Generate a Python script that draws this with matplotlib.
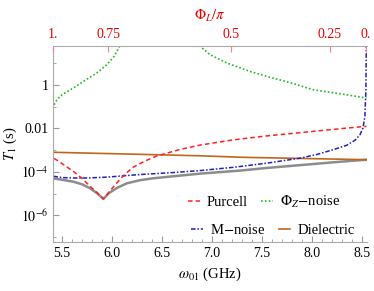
import matplotlib.pyplot as plt
import numpy as np
from matplotlib.ticker import NullFormatter

plt.rcParams["font.family"] = ["Liberation Serif", "DejaVu Serif"]
plt.rcParams["mathtext.fontset"] = "stix"

# frequency (GHz), log10(T1 / s)
purcell_f = [5.42, 5.5, 5.613, 5.7, 5.78, 5.85, 5.913, 5.97, 6.047, 6.13, 6.213, 6.33,
             6.447, 6.68, 6.88, 7.213, 7.547, 7.88, 8.013, 8.347, 8.545]
purcell_log = [-3.38, -3.62, -3.98, -4.30, -4.66, -4.95, -5.24, -4.92, -4.51, -4.10, -3.78,
               -3.50, -3.27, -2.97, -2.77, -2.53, -2.35, -2.20, -2.14, -1.99, -1.91]

phiz_f_left = [5.42, 5.45, 5.5, 5.613, 5.713, 5.847, 5.947, 6.02, 6.08, 6.12]
phiz_log_left = [-0.92, -0.68, -0.45, -0.15, 0.15, 0.54, 0.92, 1.3, 1.79, 2.3]
phiz_f_right = [6.84, 6.873, 6.98, 7.147, 7.38, 7.613, 7.78, 8.013, 8.347, 8.545]
phiz_log_right = [2.3, 1.79, 1.38, 1.0, 0.61, 0.3, 0.1, -0.23, -0.46, -0.61]

mnoise_f = [5.413, 5.5, 5.613, 5.75, 5.947, 6.28, 6.613, 6.88, 7.213, 7.547, 7.88, 8.05,
            8.213, 8.347, 8.43, 8.48, 8.51, 8.53, 8.54, 8.545]
mnoise_log = [-4.20, -4.26, -4.28, -4.28, -4.24, -4.12, -4.03, -3.94, -3.79, -3.60, -3.37,
              -3.20, -2.98, -2.78, -2.55, -2.30, -2.00, -1.45, -0.23, 2.3]

diel_f = [5.413, 6.88, 7.3, 8.545]
diel_log = [-3.10, -3.26, -3.33, -3.44]

total_f = [5.413, 5.5, 5.613, 5.7, 5.78, 5.85, 5.913, 5.97, 6.047, 6.15, 6.28, 6.4,
           6.613, 6.88, 7.28, 7.547, 7.88, 8.213, 8.545]
total_log = [-4.30, -4.36, -4.45, -4.57, -4.75, -4.98, -5.24, -4.97, -4.74, -4.52, -4.38,
             -4.30, -4.20, -4.08, -3.94, -3.82, -3.69, -3.56, -3.44]

# top axis: flux labels and the frequency they sit at
phi_labels = ["1.", "0.75", "0.5", "0.25", "0."]
phi_freq = [5.41, 5.96, 7.19, 8.18, 8.54]

fig = plt.figure(figsize=(3.74, 2.91), dpi=100)
ax = fig.add_axes([0.142, 0.168, 0.839, 0.674])

ax.plot(total_f, 10.0 ** np.array(total_log), color="#8c8c8c", lw=1.8)
ax.plot(diel_f, 10.0 ** np.array(diel_log), color="#c0661a", lw=1.2)
ax.plot(mnoise_f, 10.0 ** np.array(mnoise_log), color="#2020c0", lw=1.1,
        dashes=(3, 1.2, 1, 1.2))
ax.plot(phiz_f_left, 10.0 ** np.array(phiz_log_left), color="#22bb22", lw=1.2,
        dashes=(1, 1.3))
ax.plot(phiz_f_right, 10.0 ** np.array(phiz_log_right), color="#22bb22", lw=1.2,
        dashes=(1, 1.3))
ax.plot(purcell_f, 10.0 ** np.array(purcell_log), color="#ff2020", lw=1.1,
        dashes=(3, 2))

ax.set_yscale("log")
ax.set_xlim(5.41, 8.55)
ax.set_ylim(6e-8, 60)

ax.set_yticks([1, 1e-2, 1e-4, 1e-6])
ax.set_yticklabels(["1", "0.01", "$10^{-4}$", "$10^{-6}$"])
ax.set_yticks([10, 0.1, 1e-3, 1e-5, 1e-7], minor=True)
ax.yaxis.set_minor_formatter(NullFormatter())
ax.set_xticks([5.5, 6.0, 6.5, 7.0, 7.5, 8.0, 8.5])
ax.set_xticks(np.arange(5.5, 8.56, 0.1), minor=True)
ax.tick_params(which="both", direction="in", colors="#999999", labelcolor="black",
               labelsize=10, top=False, right=False)
ax.tick_params(which="major", length=4)
ax.tick_params(which="minor", length=2)
for s in ["left", "bottom", "top"]:
    ax.spines[s].set_color("#aaaaaa")
ax.spines["right"].set_visible(False)

ax.set_xlabel(r"$\omega_{01}$ (GHz)", fontsize=10.5)
ax.set_ylabel(r"$T_1$ (s)", fontsize=10.5, labelpad=1)

top = ax.twiny()
top.set_xlim(ax.get_xlim())
top.set_xticks(phi_freq)
top.set_xticklabels(phi_labels)
top.tick_params(direction="in", colors="#ff8080", labelcolor="#ee0000", labelsize=10,
                length=4)
top.set_xlabel(r"$\Phi_L/\pi$", color="#ee0000", fontsize=10.5, labelpad=6)
for s in top.spines.values():
    s.set_visible(False)

h_p = plt.Line2D([], [], color="#ff2020", lw=1.1, dashes=(3, 2))
h_z = plt.Line2D([], [], color="#22bb22", lw=1.2, dashes=(1, 1.3))
h_m = plt.Line2D([], [], color="#2020c0", lw=1.1, dashes=(3, 1.2, 1, 1.2))
h_d = plt.Line2D([], [], color="#c0661a", lw=1.2)

kw = dict(ncol=2, frameon=False, fontsize=10.5, handlelength=0.8, handletextpad=0.5,
          columnspacing=0.9, borderpad=0, borderaxespad=0, loc="center left")
leg1 = ax.legend([h_p, h_z], ["Purcell", r"$\Phi_Z$$-$noise"],
                 bbox_to_anchor=(0.43, 0.204), **kw)
ax.add_artist(leg1)
ax.legend([h_m, h_d], ["M$-$noise", "Dielectric"],
          bbox_to_anchor=(0.44, 0.061), **kw)

fig.savefig("out.png", dpi=100)
